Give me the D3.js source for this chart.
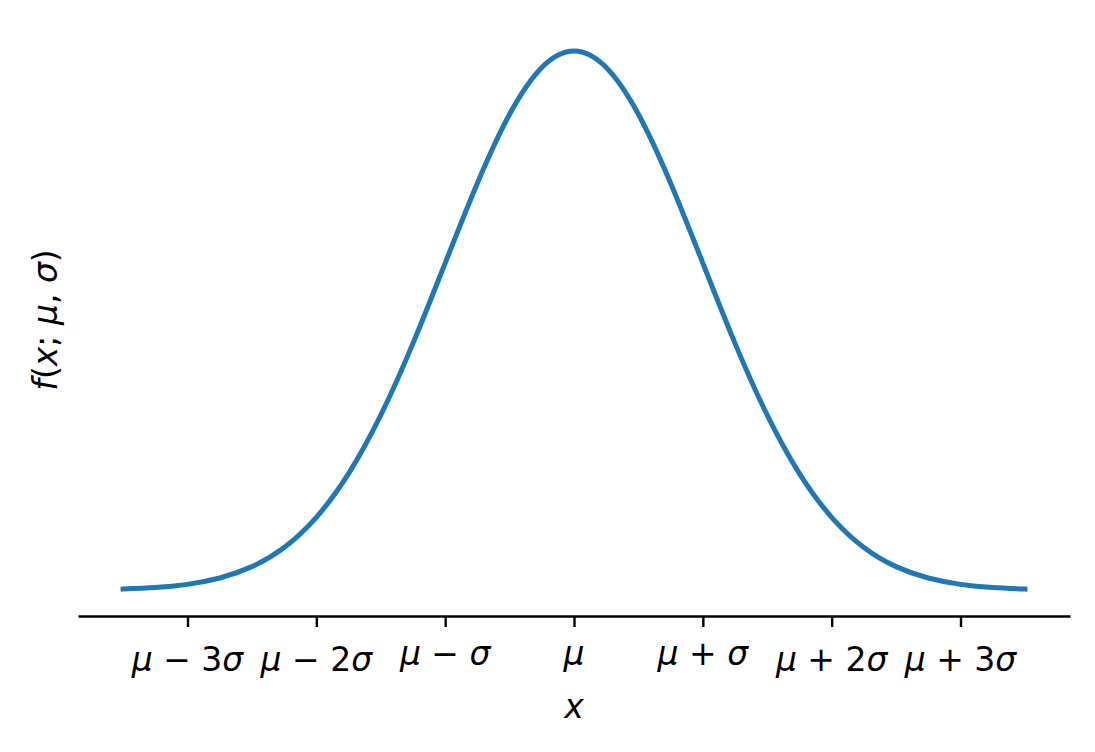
<!doctype html>
<html>
<head>
    <meta charset="utf-8">
    <style>
        body { margin: 0; background: #fff; }
        svg { display: block; font-family: "DejaVu Sans", sans-serif; }
        .curve { fill: none; stroke: #1f77b4; stroke-width: 5; stroke-linecap: square; }
    </style>
    <script src="https://d3js.org/d3.v7.min.js"></script>
</head>
<body>
<svg width="1095" height="752"></svg>
<script>
    // x in units of sigma from the mean, y = density
    var xs = [-3.5, -3.25, -3, -2.75, -2.5, -2.25, -2, -1.75, -1.5, -1.25, -1, -0.75, -0.5, -0.25,
              0, 0.25, 0.5, 0.75, 1, 1.25, 1.5, 1.75, 2, 2.25, 2.5, 2.75, 3, 3.25, 3.5];
    var ys = [0.0009, 0.0020, 0.0044, 0.0091, 0.0175, 0.0317, 0.0540, 0.0863, 0.1295, 0.1826, 0.2420, 0.3011, 0.3521, 0.3867,
              0.3989, 0.3867, 0.3521, 0.3011, 0.2420, 0.1826, 0.1295, 0.0863, 0.0540, 0.0317, 0.0175, 0.0091, 0.0044, 0.0020, 0.0009];

    var tickValues = [-3, -2, -1, 0, 1, 2, 3];
    // each label: pieces of [text, italic]
    var tickLabels = [
        [["μ", 1], [" − 3", 0], ["σ", 1]],
        [["μ", 1], [" − 2", 0], ["σ", 1]],
        [["μ", 1], [" − ", 0], ["σ", 1]],
        [["μ", 1]],
        [["μ", 1], [" + ", 0], ["σ", 1]],
        [["μ", 1], [" + 2", 0], ["σ", 1]],
        [["μ", 1], [" + 3", 0], ["σ", 1]]
    ];
    var yLabel = [["f", 1], ["(", 0], ["x", 1], ["; ", 0], ["μ", 1], [", ", 0], ["σ", 1], [")", 0]];

    var data = xs.map(function(d, i) { return {x: d, y: ys[i]}; });

    var svg = d3.select("svg"),
        plotL = 78, plotR = 1070, plotT = 24, plotB = 616;

    // matplotlib style 5% margins
    var xExt = d3.extent(xs), yExt = d3.extent(ys);
    var xPad = (xExt[1] - xExt[0]) * 0.05, yPad = (yExt[1] - yExt[0]) * 0.05;

    var x = d3.scaleLinear().domain([xExt[0] - xPad, xExt[1] + xPad]).range([plotL, plotR]);
    var y = d3.scaleLinear().domain([yExt[0] - yPad, yExt[1] + yPad]).range([plotB, plotT]);

    var line = d3.line()
        .x(function(d) { return x(d.x); })
        .y(function(d) { return y(d.y); })
        .curve(d3.curveNatural);

    svg.append("path")
       .datum(data)
       .attr("class", "curve")
       .attr("d", line);

    // bottom axis
    var ax = svg.append("g")
        .attr("transform", "translate(0," + plotB + ")")
        .call(d3.axisBottom(x).tickValues(tickValues).tickSize(11).tickSizeOuter(0).tickFormat(""));
    ax.select(".domain").attr("stroke", "#000").attr("stroke-width", 2.4);
    ax.selectAll(".tick line").attr("stroke", "#000").attr("stroke-width", 2.4);
    ax.selectAll(".tick text").remove();

    function addParts(t, parts) {
        parts.forEach(function(p) {
            t.append("tspan")
             .attr("font-style", p[1] ? "italic" : "normal")
             .text(p[0]);
        });
    }

    tickValues.forEach(function(v, i) {
        var hasDigit = /\d/.test(tickLabels[i].map(function(p) { return p[0]; }).join(""));
        var t = svg.append("text")
            .attr("x", x(v))
            .attr("y", hasDigit ? 671 : 665)
            .attr("text-anchor", "middle")
            .attr("font-size", "33px")
            .attr("fill", "#000");
        addParts(t, tickLabels[i]);
    });

    // axis labels
    svg.append("text")
       .attr("x", (plotL + plotR) / 2)
       .attr("y", 718)
       .attr("text-anchor", "middle")
       .attr("font-size", "33px")
       .attr("font-style", "italic")
       .text("x");

    var yl = svg.append("text")
       .attr("transform", "translate(57," + ((plotT + plotB) / 2) + ") rotate(-90)")
       .attr("text-anchor", "middle")
       .attr("font-size", "33px");
    addParts(yl, yLabel);
</script>
</body>
</html>
